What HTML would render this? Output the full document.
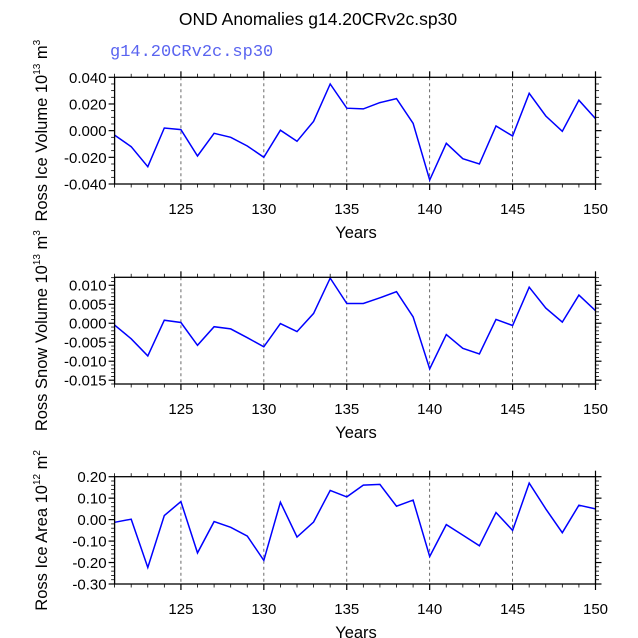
<!DOCTYPE html>
<html><head><meta charset="utf-8"><style>
body{margin:0;background:#fff}
svg{display:block;font-family:"Liberation Sans",sans-serif}
</style></head><body>
<svg id="c" width="638" height="638">
<text x="318" y="25" font-size="17.5" text-anchor="middle">OND Anomalies g14.20CRv2c.sp30</text>
<text x="110" y="56" font-size="17" fill="#5a64f0" font-family="Liberation Mono, monospace">g14.20CRv2c.sp30</text>
</svg>
<script>
const years=[121,122,123,124,125,126,127,128,129,130,131,132,133,134,135,136,137,138,139,140,141,142,143,144,145,146,147,148,149,150];
const iceVolume=[-0.0033,-0.012,-0.027,0.002,0.0008,-0.019,-0.002,-0.005,-0.0115,-0.020,0.0003,-0.008,0.007,0.035,0.0168,0.0163,0.021,0.024,0.0055,-0.037,-0.0095,-0.021,-0.025,0.0035,-0.004,0.028,0.011,-0.0005,0.0228,0.009];
const snowVolume=[-0.0006,-0.0042,-0.0087,0.0007,0.0001,-0.0059,-0.001,-0.0016,-0.0039,-0.0063,-0.0002,-0.0023,0.0025,0.0118,0.0051,0.0051,0.0066,0.0082,0.0016,-0.0121,-0.0031,-0.0067,-0.0082,0.0009,-0.0007,0.0094,0.0039,0.0002,0.0073,0.0032];
const iceArea=[-0.0125,0.002,-0.223,0.019,0.084,-0.155,-0.009,-0.036,-0.077,-0.19,0.081,-0.081,-0.011,0.136,0.106,0.161,0.164,0.0625,0.091,-0.172,-0.023,-0.072,-0.122,0.033,-0.05,0.17,0.05,-0.061,0.067,0.05];
const xTicks=[125,130,135,140,145,150];
const ticks1=[-0.04,-0.02,0,0.02,0.04], labels1=["-0.040","-0.020","0.000","0.020","0.040"];
const ticks2=[-0.015,-0.01,-0.005,0,0.005,0.01], labels2=["-0.015","-0.010","-0.005","0.000","0.005","0.010"];
const ticks3=[-0.3,-0.2,-0.1,0,0.1,0.2], labels3=["-0.30","-0.20","-0.10","0.00","0.10","0.20"];

const svg=document.getElementById('c');
const NS='http://www.w3.org/2000/svg';
function mk(t,a,p){const e=document.createElementNS(NS,t);for(const k in a)e.setAttribute(k,a[k]);(p||svg).appendChild(e);return e;}
const X0=114.6,X1=595.5;
const xs=v=>X0+(v-121)/(150-121)*(X1-X0);

function panel(name,top,bot,ymin,ymax,vals,ticks,labels,minorStep,ylabel,sup1,unit,sup2){
  const g=mk('g',{});
  
  
  const ys=v=>bot-(v-ymin)/(ymax-ymin)*(bot-top);
  xTicks.slice(0,5).forEach(t=>{
    const l=mk('line',{x1:xs(t),x2:xs(t),y1:top,y2:bot,stroke:'#444','stroke-width':0.8,'stroke-dasharray':'3,3'},g);
    
    
  });
  years.forEach(y=>{
    const maj=(y%5===0);const len=maj?6:3.5;
    [[top,top-len],[bot,bot+len]].forEach(([a,b])=>{
      mk('line',{x1:xs(y),x2:xs(y),y1:a,y2:b,stroke:'#000','stroke-width':maj?1.2:0.8},g);
    });
  });
  xTicks.forEach(t=>{
    const tx=mk('text',{x:xs(t),y:bot+30,'font-size':15,'text-anchor':'middle'},g);
    tx.textContent=t;
    
    
  });
  for(let v=ymin;v<=ymax+1e-9;v+=minorStep){
    const isMaj=ticks.some(t=>Math.abs(t-v)<minorStep/10);
    const len=isMaj?6:3.5;
    mk('line',{x1:X0,x2:X0-len,y1:ys(v),y2:ys(v),stroke:'#000','stroke-width':isMaj?1.2:0.8},g);
    mk('line',{x1:X1,x2:X1+len,y1:ys(v),y2:ys(v),stroke:'#000','stroke-width':isMaj?1.2:0.8},g);
  }
  ticks.forEach((t,i)=>{
    const tx=mk('text',{x:X0-8,y:ys(t)+5.5,'font-size':15,'text-anchor':'end'},g);
    tx.textContent=labels[i];
    
    
  });
  const pts=years.map((y,i)=>xs(y).toFixed(1)+','+ys(vals[i]).toFixed(1)).join(' ');
  const pl=mk('polyline',{points:pts,fill:'none',stroke:'#0000ff','stroke-width':1.5},g);
  
  
  const fr=mk('rect',{x:X0,y:top,width:X1-X0,height:bot-top,fill:'none',stroke:'#000','stroke-width':1.3},g);
  
  
  const xt=mk('text',{x:356,y:bot+54,'font-size':16.5,'text-anchor':'middle'},g);
  xt.textContent='Years';
  
  
  const cy=(top+bot)/2;
  const yt=mk('text',{x:0,y:0,'font-size':16.5,'text-anchor':'middle',transform:`translate(47,${cy}) rotate(-90)`},g);
  
  
  yt.appendChild(document.createTextNode(ylabel));
  const s1=mk('tspan',{'font-size':10,dy:-7},yt);s1.textContent=sup1;
  const u=mk('tspan',{dy:7},yt);u.textContent=unit;
  const s2=mk('tspan',{'font-size':10,dy:-7},yt);s2.textContent=sup2;
}
panel('ice-volume',77.3,184,-0.04,0.04,iceVolume,ticks1,labels1,0.005,'Ross Ice Volume 10','13',' m','3');
panel('snow-volume',277.3,384,-0.0161,0.012,snowVolume,ticks2,labels2,0.001,'Ross Snow Volume 10','13',' m','3');
panel('ice-area',476.7,584,-0.3,0.2,iceArea,ticks3,labels3,0.02,'Ross Ice Area 10','12',' m','2');
</script>
</body></html>
